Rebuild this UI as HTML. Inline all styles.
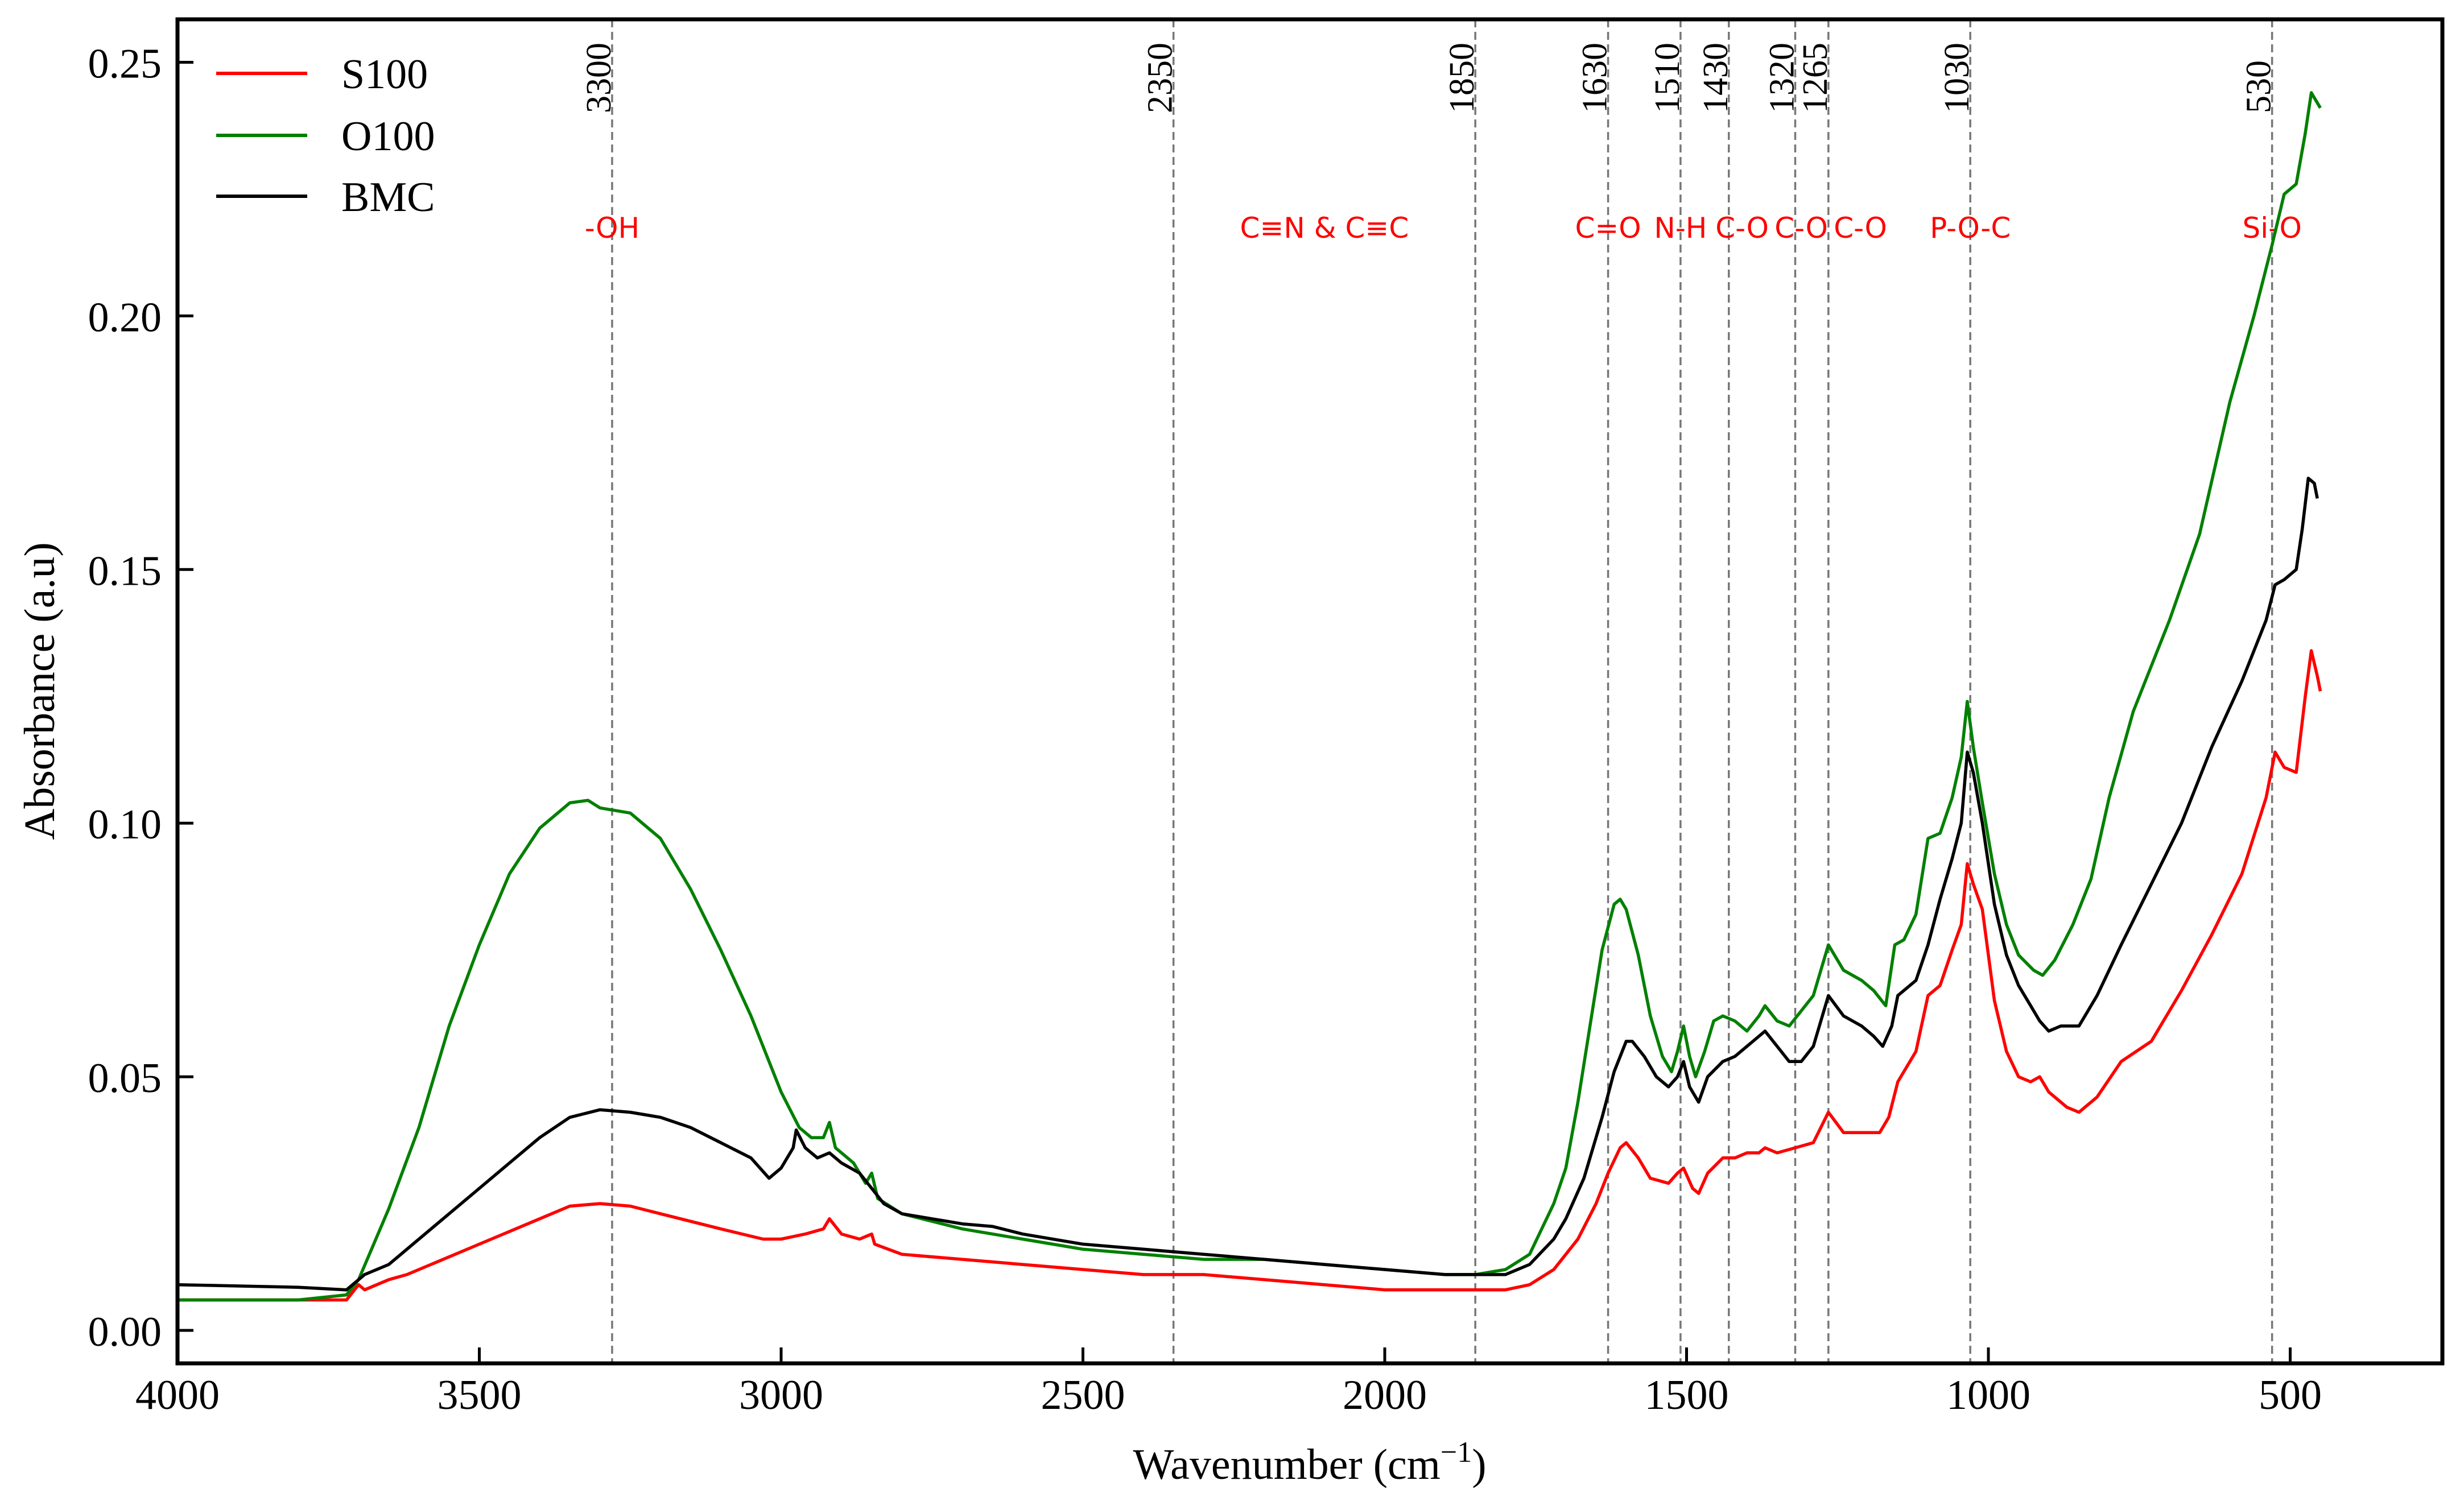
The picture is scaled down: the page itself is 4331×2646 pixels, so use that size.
<!DOCTYPE html>
<html><head><meta charset="utf-8"><style>
html,body{margin:0;padding:0;background:#fff}
svg{display:block}
</style></head><body>
<svg id="chart" width="4331" height="2646" viewBox="0 0 4331 2646" xmlns="http://www.w3.org/2000/svg">
<rect x="0" y="0" width="4331" height="2646" fill="#fff"/>
<g id="guides"></g>
<g id="series"></g>
<g id="axes"></g>
<g id="legend">
  <line x1="380" y1="129" x2="540" y2="129" stroke="#ff0000" stroke-width="6"/>
  <text x="600" y="155" font-family="Liberation Serif, serif" font-size="74">S100</text>
  <line x1="380" y1="238" x2="540" y2="238" stroke="#008000" stroke-width="6"/>
  <text x="600" y="264" font-family="Liberation Serif, serif" font-size="74">O100</text>
  <line x1="380" y1="345" x2="540" y2="345" stroke="#000" stroke-width="6"/>
  <text x="600" y="371" font-family="Liberation Serif, serif" font-size="74">BMC</text>
</g>
<text x="2302" y="2600" text-anchor="middle" font-family="Liberation Serif, serif" font-size="76">Wavenumber (cm<tspan font-size="52" dy="-30">−1</tspan><tspan dy="30">)</tspan></text>
<text transform="translate(95,1215) rotate(-90)" text-anchor="middle" font-family="Liberation Serif, serif" font-size="76">Absorbance (a.u)</text>
</svg>
<script>
const xTicks = [4000, 3500, 3000, 2500, 2000, 1500, 1000, 500];
const yTicks = [0, 0.05, 0.10, 0.15, 0.20, 0.25];
const yTickLabels = ["0.00", "0.05", "0.10", "0.15", "0.20", "0.25"];
const markerWaves = [3280, 2350, 1850, 1630, 1510, 1430, 1320, 1265, 1030, 530];
const markerLabels = ["3300", "2350", "1850", "1630", "1510", "1430", "1320", "1265", "1030", "530"];
const bandLabels = ["-OH", "C≡N & C≡C", "C=O", "N-H", "C-O", "C-O", "C-O", "P-O-C", "Si-O"];
const bandWaves = [3280, 2100, 1630, 1510, 1408, 1310, 1212, 1030, 530];

const waveS100 = [4000,3800,3720,3700,3690,3650,3620,3600,3500,3400,3350,3300,3250,3200,3100,3030,3000,2960,2930,2920,2900,2870,2850,2845,2800,2700,2600,2500,2400,2300,2200,2100,2000,1900,1800,1760,1720,1680,1650,1630,1610,1600,1580,1560,1530,1515,1505,1490,1480,1465,1440,1420,1400,1380,1370,1350,1320,1290,1265,1240,1210,1180,1165,1150,1120,1100,1080,1060,1045,1035,1025,1010,990,970,950,930,915,900,870,850,820,780,730,680,630,580,540,525,510,490,475,465,455,450];
const valS100 = [0.006,0.006,0.006,0.009,0.008,0.010,0.011,0.012,0.017,0.022,0.0245,0.025,0.0245,0.023,0.020,0.018,0.018,0.019,0.020,0.022,0.019,0.018,0.019,0.017,0.015,0.014,0.013,0.012,0.011,0.011,0.010,0.009,0.008,0.008,0.008,0.009,0.012,0.018,0.025,0.031,0.036,0.037,0.034,0.030,0.029,0.031,0.032,0.028,0.027,0.031,0.034,0.034,0.035,0.035,0.036,0.035,0.036,0.037,0.043,0.039,0.039,0.039,0.042,0.049,0.055,0.066,0.068,0.075,0.080,0.092,0.088,0.083,0.065,0.055,0.050,0.049,0.050,0.047,0.044,0.043,0.046,0.053,0.057,0.067,0.078,0.090,0.105,0.114,0.111,0.110,0.125,0.134,0.129,0.126];

const waveO100 = [4000,3800,3720,3700,3650,3600,3550,3500,3450,3400,3350,3320,3300,3250,3200,3150,3100,3050,3000,2970,2950,2930,2920,2910,2880,2860,2850,2840,2800,2700,2600,2500,2400,2300,2200,2100,2000,1900,1850,1800,1760,1720,1700,1680,1660,1640,1620,1610,1600,1580,1560,1540,1525,1515,1505,1495,1485,1470,1455,1440,1420,1400,1380,1370,1350,1330,1310,1290,1265,1240,1210,1190,1170,1155,1140,1120,1100,1080,1060,1045,1035,1025,1010,990,970,950,925,910,890,860,830,800,760,700,650,600,560,530,510,490,475,465,455,450];
const valO100 = [0.006,0.006,0.007,0.010,0.024,0.040,0.060,0.076,0.090,0.099,0.104,0.1045,0.103,0.102,0.097,0.087,0.075,0.062,0.047,0.040,0.038,0.038,0.041,0.036,0.033,0.029,0.031,0.026,0.023,0.020,0.018,0.016,0.015,0.014,0.014,0.013,0.012,0.011,0.011,0.012,0.015,0.025,0.032,0.045,0.060,0.075,0.084,0.085,0.083,0.074,0.062,0.054,0.051,0.055,0.060,0.054,0.050,0.055,0.061,0.062,0.061,0.059,0.062,0.064,0.061,0.060,0.063,0.066,0.076,0.071,0.069,0.067,0.064,0.076,0.077,0.082,0.097,0.098,0.105,0.113,0.124,0.115,0.104,0.090,0.080,0.074,0.071,0.070,0.073,0.080,0.089,0.105,0.122,0.140,0.157,0.183,0.200,0.214,0.224,0.226,0.236,0.244,0.242,0.241];

const waveBMC = [4000,3800,3720,3700,3690,3650,3600,3500,3450,3400,3350,3300,3250,3200,3150,3100,3050,3020,3000,2980,2975,2960,2940,2920,2900,2870,2850,2830,2800,2700,2650,2600,2500,2400,2300,2200,2100,2000,1900,1850,1800,1760,1720,1700,1670,1640,1620,1600,1590,1570,1550,1530,1515,1505,1495,1480,1465,1440,1420,1400,1380,1370,1350,1330,1310,1290,1265,1240,1210,1190,1175,1160,1150,1120,1100,1080,1060,1045,1035,1025,1010,990,970,950,930,915,900,880,850,820,780,730,680,630,580,540,525,510,490,480,470,460,455];
const valBMC = [0.009,0.0085,0.008,0.010,0.011,0.013,0.018,0.028,0.033,0.038,0.042,0.0435,0.043,0.042,0.040,0.037,0.034,0.030,0.032,0.036,0.0395,0.036,0.034,0.035,0.033,0.031,0.028,0.025,0.023,0.021,0.0205,0.019,0.017,0.016,0.015,0.014,0.013,0.012,0.011,0.011,0.011,0.013,0.018,0.022,0.030,0.042,0.051,0.057,0.057,0.054,0.050,0.048,0.050,0.053,0.048,0.045,0.050,0.053,0.054,0.056,0.058,0.059,0.056,0.053,0.053,0.056,0.066,0.062,0.060,0.058,0.056,0.060,0.066,0.069,0.076,0.085,0.093,0.100,0.114,0.110,0.100,0.084,0.074,0.068,0.064,0.061,0.059,0.060,0.060,0.066,0.076,0.088,0.100,0.115,0.128,0.140,0.147,0.148,0.150,0.158,0.168,0.167,0.164];

const NS = "http://www.w3.org/2000/svg";
const L = 312, R = 4293, T = 34, B = 2397;
const xMax = 4000, xMin = 4000 - (R - L) / 1.0610;
const y0px = 2339, pxPerUnit = (2339 - 109.5) / 0.25;
function xs(w) { return L + (xMax - w) / (xMax - xMin) * (R - L); }
function ys(v) { return y0px - v * pxPerUnit; }
function mk(tag, attrs, parent) {
  const e = document.createElementNS(NS, tag);
  for (const k in attrs) e.setAttribute(k, attrs[k]);
  parent.appendChild(e);
  return e;
}
const guides = document.getElementById('guides');
markerWaves.forEach(function (w, i) {
  const ln = mk('line', {x1: xs(w), x2: xs(w), y1: T, y2: B, stroke: '#777', 'stroke-width': 3.5, 'stroke-dasharray': '14 8'}, guides);
  
  
  const t = mk('text', {transform: 'translate(' + (xs(w) - 3) + ',199) rotate(-90)', 'font-family': 'Liberation Serif, serif', 'font-size': 62}, guides);
  t.textContent = markerLabels[i];
  
  
});
bandLabels.forEach(function (lab, i) {
  const t = mk('text', {x: xs(bandWaves[i]), y: 418, 'text-anchor': 'middle', fill: '#ff0000', 'font-family': 'DejaVu Sans, sans-serif', 'font-size': 50}, guides);
  t.textContent = lab;
  
  
});
const series = document.getElementById('series');
function drawLine(ws, vs, color, name) {
  let d = '';
  ws.forEach(function (w, i) { d += (i ? 'L' : 'M') + xs(w).toFixed(1) + ',' + ys(vs[i]).toFixed(1); });
  const p = mk('path', {d: d, fill: 'none', stroke: color, 'stroke-width': 5.5, 'stroke-linejoin': 'round'}, series);
  
  
}
drawLine(waveS100, valS100, '#ff0000', 'series-s100');
drawLine(waveO100, valO100, '#008000', 'series-o100');
drawLine(waveBMC, valBMC, '#000000', 'series-bmc');

const axes = document.getElementById('axes');
const frame = mk('rect', {x: L, y: T, width: R - L, height: B - T, fill: 'none', stroke: '#000', 'stroke-width': 7}, axes);


xTicks.forEach(function (w) {
  const tk = mk('line', {x1: xs(w), x2: xs(w), y1: B, y2: B - 28, stroke: '#000', 'stroke-width': 5}, axes);
  
  
  const t = mk('text', {x: xs(w), y: 2477, 'text-anchor': 'middle', 'font-family': 'Liberation Serif, serif', 'font-size': 74}, axes);
  t.textContent = String(w);
  
  
});
yTicks.forEach(function (v, i) {
  const tk = mk('line', {x1: L, x2: L + 28, y1: ys(v), y2: ys(v), stroke: '#000', 'stroke-width': 5}, axes);
  
  
  const t = mk('text', {x: 284, y: ys(v) + 27, 'text-anchor': 'end', 'font-family': 'Liberation Serif, serif', 'font-size': 74}, axes);
  t.textContent = yTickLabels[i];
  
  
});
</script>
</body></html>
